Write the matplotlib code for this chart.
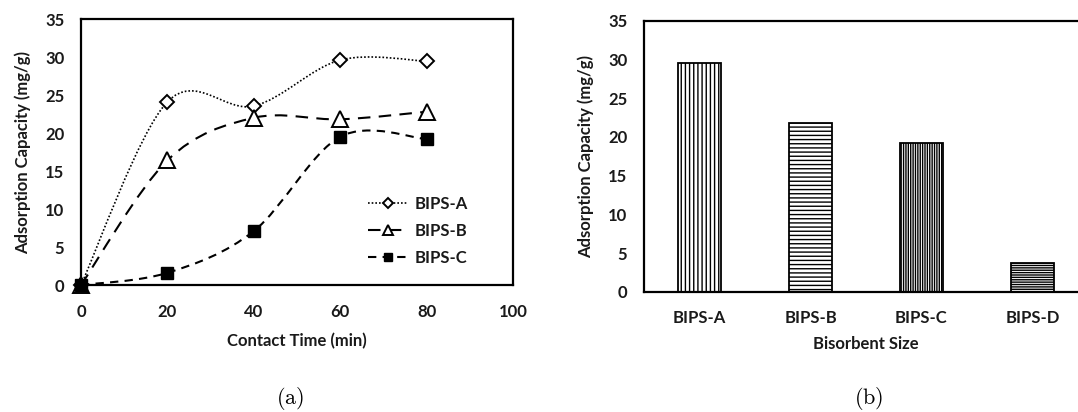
import numpy as np
import matplotlib
matplotlib.use("Agg")
import matplotlib.pyplot as plt
from matplotlib.path import Path
from matplotlib.patches import PathPatch
from matplotlib.lines import Line2D

# ---------------- data ----------------
contact_time = [0, 20, 40, 60, 80]
bips_a = [0.0, 24.1, 23.55, 29.6, 29.45]
bips_b = [0.0, 16.4, 22.0, 21.8, 22.8]
bips_c = [0.0, 1.6, 7.1, 19.5, 19.2]
series_labels = ["BIPS-A", "BIPS-B", "BIPS-C"]

bar_categories = ["BIPS-A", "BIPS-B", "BIPS-C", "BIPS-D"]
bar_values = [29.6, 21.8, 19.2, 3.8]

xticks_a = [0, 20, 40, 60, 80, 100]
yticks = [0, 5, 10, 15, 20, 25, 30, 35]

plt.rcParams['font.family'] = ['Lato', 'DejaVu Sans']
plt.rcParams['font.weight'] = 'bold'
plt.rcParams['hatch.linewidth'] = 1.0
plt.rcParams['mathtext.fontset'] = 'cm'

FS = 12
TXT = '#1a1a1a'

fig = plt.figure(figsize=(10.78, 4.12), dpi=100)
W, H = 1078, 412


def smooth_path(xs, ys):
    """Excel-like smoothed curve (Catmull-Rom via cubic Bezier)."""
    pts = np.column_stack([xs, ys]).astype(float)
    n = len(pts)
    verts = [pts[0]]
    codes = [Path.MOVETO]
    for i in range(n - 1):
        p0 = pts[i - 1] if i > 0 else pts[i]
        p1 = pts[i]
        p2 = pts[i + 1]
        p3 = pts[i + 2] if i + 2 < n else pts[i + 1]
        c1 = p1 + (p2 - p0) / 6.0
        c2 = p2 - (p3 - p1) / 6.0
        verts += [c1, c2, p2]
        codes += [Path.CURVE4] * 3
    return Path(verts, codes)


# ---------------- panel (a) ----------------
ax1 = fig.add_axes([81 / W, 1 - 285 / H, (513 - 81) / W, (285 - 19) / H])
styles = [
    dict(ls=(0, (1, 1.2)), marker='D', ms=7.5, mfc='white', mec='black', mew=1.4, lw=1.2),
    dict(ls=(0, (6, 4)), marker='^', ms=12, mfc='white', mec='black', mew=1.4, lw=1.5),
    dict(ls=(0, (4, 3)), marker='s', ms=8, mfc='black', mec='black', mew=1.0, lw=1.5),
]
handles = []
for ys, st, lab in zip([bips_a, bips_b, bips_c], styles, series_labels):
    patch = PathPatch(smooth_path(contact_time, ys), fill=False, edgecolor='black',
                      lw=st['lw'], linestyle=st['ls'], zorder=2)
    ax1.add_patch(patch)
    ax1.plot(contact_time, ys, ls='none', marker=st['marker'], ms=st['ms'],
             mfc=st['mfc'], mec=st['mec'], mew=st['mew'], zorder=3, clip_on=False)
    handles.append(Line2D([], [], color='black', ls=st['ls'], lw=st['lw'],
                          marker=st['marker'], ms=st['ms'] * 0.65, mfc=st['mfc'],
                          mec=st['mec'], mew=st['mew'], label=lab))

ax1.set_xlim(0, 100)
ax1.set_ylim(0, 35)
ax1.set_xticks(xticks_a)
ax1.set_yticks(yticks)
ax1.tick_params(axis='both', length=0, labelsize=FS, colors=TXT)
ax1.tick_params(axis='x', pad=14)
ax1.tick_params(axis='y', pad=12)
for s in ax1.spines.values():
    s.set_linewidth(1.6)
ax1.set_xlabel("Contact Time (min)", fontsize=FS, fontweight='bold', color=TXT, labelpad=9)
ax1.set_ylabel("Adsorption Capacity (mg/g)", fontsize=FS, fontweight='bold', color=TXT, labelpad=10)
leg = ax1.legend(handles=handles, loc='upper left', bbox_to_anchor=(0.665, 0.335),
                 frameon=False, fontsize=FS, handlelength=2.4, handletextpad=0.4,
                 labelspacing=0.65, borderpad=0, borderaxespad=0, numpoints=1)
for t in leg.get_texts():
    t.set_color(TXT)

fig.text(290 / W, 1 - 399 / H, r"$\mathrm{(a)}$", ha='center', va='center', fontsize=16)

# ---------------- panel (b) ----------------
ax2 = fig.add_axes([644 / W, 1 - 292 / H, 444 / W, (292 - 20.7) / H])
xpos = np.arange(len(bar_categories))
hatches = ['||||', '----', '|||||||', '-------']
bars = ax2.bar(xpos, bar_values, width=0.39, color='white', edgecolor='black', lw=1.3)
for b, h in zip(bars, hatches):
    b.set_hatch(h)
ax2.set_xlim(-0.5, len(bar_categories) - 0.5)
ax2.set_ylim(0, 35)
ax2.set_xticks(xpos)
ax2.set_xticklabels(bar_categories)
ax2.set_yticks(yticks)
ax2.tick_params(axis='both', length=0, labelsize=FS, colors=TXT)
ax2.tick_params(axis='x', pad=13)
ax2.tick_params(axis='y', pad=12)
for s in ax2.spines.values():
    s.set_linewidth(1.6)
ax2.set_xlabel("Bisorbent Size", fontsize=FS, fontweight='bold', color=TXT, labelpad=7)
ax2.set_ylabel("Adsorption Capacity (mg/g)", fontsize=FS, fontweight='bold', color=TXT, labelpad=10)

fig.text(869 / W, 1 - 399 / H, r"$\mathrm{(b)}$", ha='center', va='center', fontsize=16)

fig.savefig("out.png", dpi=100)
